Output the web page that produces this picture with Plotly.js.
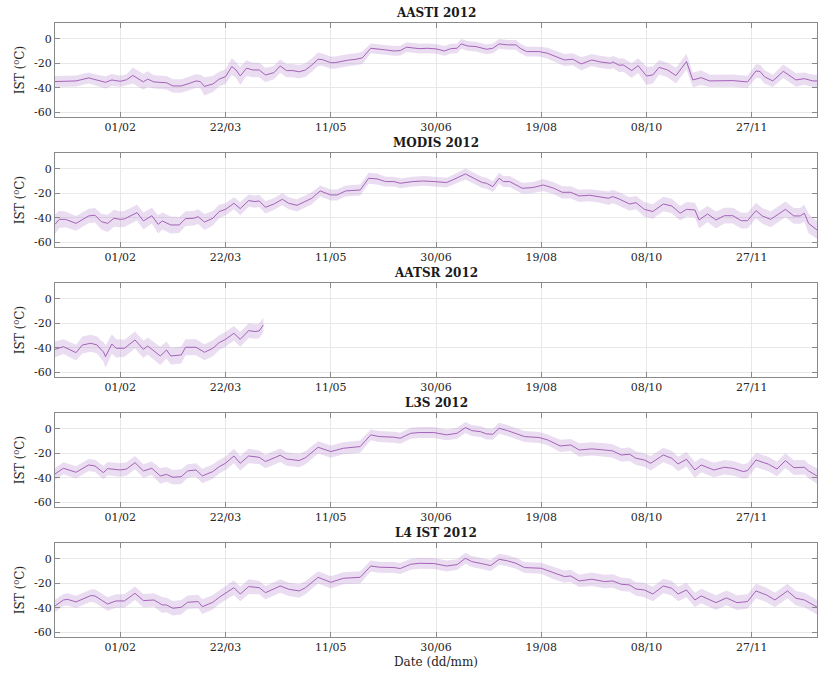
<!DOCTYPE html>
<html>
<head>
<meta charset="utf-8">
<script src="https://cdn.plot.ly/plotly-3.0.1.min.js"></script>
<style>html,body{margin:0;padding:0;background:#fff;}#chart{width:818px;height:674px;}</style>
</head>
<body>
<div id="chart"></div>
<script>
// ---- data (day of year 2012, 0 = 1 Jan) ----
const panelTitles = ["AASTI 2012", "MODIS 2012", "AATSR 2012", "L3S 2012", "L4 IST 2012"];
const yTickVals = [0, -20, -40, -60];
const yTickText = ["0", "-20", "-40", "-60"];

const daysAASTI = [0,10,16,20,24,27,31,34,37,42,44,47,53,56,60,64,67,69,71,75,78,81,84,86,88,91,94,97,100,104,107,110,113,116,119,122,125,127,131,133,136,139,143,146,150,153,157,161,164,167,170,173,177,181,185,188,191,193,196,200,205,208,211,215,219,221,224,230,234,238,242,246,250,255,259,264,265,268,270,274,277,281,284,287,291,295,300,303,307,311,318,322,329,333,335,337,341,346,352,356,360,363];
const meanAASTI = [-35,-34.5,-32,-34,-35.6,-33.7,-34.8,-33.5,-30,-35.3,-33,-35.3,-36,-38.6,-38.6,-36.4,-34.5,-35,-39,-37,-33,-31,-22.7,-25.5,-30.4,-24,-25.5,-25.5,-29.6,-27.7,-22.2,-26,-26,-27,-25.5,-21.4,-16.7,-17,-19.5,-19.5,-18.4,-17.5,-16.7,-15.6,-7.7,-8.5,-9,-9.9,-9.6,-6.8,-7.1,-8,-7.7,-8.2,-9.9,-8,-7.7,-4.1,-5.8,-6.3,-8.5,-7.7,-4.1,-4.9,-4.9,-7.7,-10.4,-10.4,-11.8,-14.5,-17.3,-16.7,-20.5,-17.3,-18.9,-20,-18.9,-21.6,-21.4,-26,-21.9,-30.4,-29.6,-23.3,-25.5,-30.1,-18.6,-33.7,-31.8,-34.5,-34.5,-34.2,-35.3,-26.3,-26.8,-31,-34.5,-26.6,-33.7,-32.6,-34.5,-34.5];
const sdAASTI = [4.5,4.5,4.5,4.5,5,5,4.5,4.5,6.5,6.5,6.5,5.5,5.5,5.5,5.5,5.5,5.5,5.5,7.5,6.5,6,6,7,6.5,7.5,6.5,6,6,6,5.5,5.5,5.5,5.5,5.5,5.5,5.5,5.5,5,5,5,5,5,5,5,4,4,4,4,4,4,4,4,4,4,4,4,4,4,4,4,4,4,4,4,4,4,4,4,4.5,4.5,5,5,5.5,5,5,5,5,5.5,5.5,6,6,7.5,7,6,6,6.5,6.5,6,6,5,5,5,5,5.5,5.5,5.5,5,5.5,5.5,5,5,5];

const daysMODIS = [0,2,5,10,16,19,22,25,28,31,33,39,42,46,49,51,55,59,62,66,68,71,75,78,81,85,88,92,95,97,100,104,108,111,115,119,122,126,128,131,134,138,145,149,153,157,161,164,170,175,180,186,189,195,199,203,205,208,211,213,216,222,227,232,237,241,245,249,254,259,263,265,268,273,276,280,284,289,293,297,300,304,306,310,314,318,322,326,329,333,336,340,347,351,354,356,358,363];
const meanMODIS = [-45.5,-41.4,-41.4,-44.7,-38.6,-38,-43.3,-44.7,-40.5,-41.4,-41,-35.9,-42.7,-38.4,-45.5,-42.7,-46,-46,-40.8,-40.5,-39.2,-43.6,-40.5,-35,-33.2,-28.2,-32.6,-26,-26.8,-26.3,-31.5,-28.8,-24.9,-28.2,-29.9,-26.3,-24.1,-18.1,-19.5,-21.4,-21.4,-18.1,-17.3,-7.7,-8.2,-10.4,-10.4,-11.8,-10.4,-9.9,-10.4,-11.2,-9,-4.1,-7.7,-11.2,-11.8,-14.5,-7.7,-10.4,-10.4,-15.9,-15.3,-13.2,-15.9,-19.2,-19.2,-22.2,-21.6,-22.7,-24.1,-22.7,-24.7,-28.8,-27.7,-33.2,-35,-28.8,-30.4,-36.4,-33.2,-33.7,-41.9,-37,-41.9,-38.4,-38.4,-42.5,-42.5,-34.2,-38.6,-41.4,-33.2,-38.6,-38.6,-36.4,-44.7,-51.5];
const sdMODIS = [8,7,6.5,6,6,6,6.5,7,7,6.5,6.5,6.5,7,6.5,7.5,7,7,6.5,6,6,6,6.5,6,5.5,5,5,5.5,5,5,5,5,5,5,5,5,5,5,4.5,4.5,4.5,4.5,4.5,4.5,4.5,4.5,4,4,4,4,4,4,4,4,4.5,4.5,4.5,4.5,4.5,4.5,4.5,4.5,4.5,4.5,5,5,5,5,5,5,5,5.5,5.5,5.5,5.5,5.5,6,6,6,6,6,6,6,7,6.5,7,6.5,6.5,6.5,6.5,6.5,6.5,6.5,6.5,6.5,6.5,7,8,7];

const daysAATSR = [0,4,10,13,17,20,22,23,24,27,29,33,38,42,44,50,53,55,60,62,67,71,75,78,81,85,88,92,95,97,99];
const meanAATSR = [-41.4,-39.2,-44.1,-37.8,-36.4,-37.8,-41.9,-43.3,-47.4,-37,-40.5,-40.5,-33.7,-41.4,-38.6,-46.8,-41.9,-46.8,-46,-39.7,-39.7,-43.8,-40.5,-35.9,-33.2,-28.2,-33.2,-26,-26.8,-26.3,-21.4];
const sdAATSR = [6.5,6,6.5,7,7,7,7.5,8,9,8,7.5,7,7,7,7,7.5,7,7,7,6.5,6.5,6.5,6.5,6,6,6,6,6,6,6,6];

const daysL3S = [0,4,10,16,19,23,25,31,34,38,42,46,50,53,56,60,63,67,70,75,78,81,85,88,92,97,100,107,110,116,119,125,131,137,145,150,154,161,164,167,169,173,180,186,191,195,198,202,205,208,211,215,219,223,230,234,240,245,249,255,261,265,269,273,276,280,283,289,293,296,300,304,307,313,318,322,327,329,333,337,339,343,347,351,356,358,363];
const meanL3S = [-37,-32.3,-35.6,-29.6,-30.4,-35.9,-32.6,-33.7,-32.9,-27.7,-34.5,-32.3,-38.6,-37.3,-39.7,-39.2,-34.5,-33.7,-38.6,-35,-31,-28.2,-22.2,-28.2,-22.2,-23.3,-26.8,-21.6,-24.7,-26,-23.6,-15.1,-18.6,-15.9,-14.5,-4.9,-6.3,-6.8,-7.7,-4.9,-3.6,-3,-3,-4.9,-3.6,1.1,-1.4,-2.2,-4.1,-4.4,0.5,-1.4,-3.6,-6.3,-7.1,-9,-14,-13.2,-17.3,-16.4,-17.3,-18.1,-21.4,-20.8,-24.1,-25.5,-28.2,-21.4,-24.1,-28.8,-24.9,-33.7,-29.6,-33.7,-31.5,-32.3,-35,-34.2,-25.5,-28.2,-29,-32.9,-26,-31.8,-31.5,-34.5,-39.7];
const sdL3S = [5,5,5,5,5,5.5,5.5,5.5,5.5,5.5,5.5,5.5,6.5,6,6,6,5.5,5.5,6,6,5.5,5.5,6,6,6,5.5,5.5,5.5,5.5,5.5,5.5,5,5,5,5,4.5,4.5,4.5,4.5,4.5,4.5,4.5,4.5,4.5,4.5,4.5,4.5,4.5,4.5,4.5,4.5,4.5,4.5,4.5,4.5,4.5,5,5,5.5,5.5,5.5,5.5,5.5,5.5,5.5,5.5,6,6,6,6,6,6.5,6,6,6,6,6,6,6,6,6,6,6,6,6,6,6.5];

const daysL4 = [0,4,6,10,17,19,25,29,33,38,42,47,51,53,56,60,63,68,70,75,78,81,85,88,92,97,100,107,111,116,119,125,131,137,145,150,154,161,164,167,169,173,180,186,191,195,198,202,207,211,215,219,223,231,236,242,245,249,255,261,265,269,273,276,280,284,289,293,296,300,304,307,314,319,324,329,333,338,342,348,352,356,363];
const meanL4 = [-38.6,-33.7,-33.2,-35.3,-30.1,-30.4,-37,-34.5,-34.5,-28.2,-34.2,-33.7,-37.8,-37.8,-40.5,-39.7,-35.6,-35,-39.2,-35.6,-31.5,-28.2,-23.6,-28.8,-22.7,-23.6,-27.7,-22.2,-24.9,-26.3,-23.6,-15.1,-19.2,-15.9,-15.1,-5.8,-6.8,-7.1,-7.9,-5.8,-4.4,-3.6,-3.8,-5.8,-4.7,0.5,-2.2,-3.6,-5.5,-0.3,-1.6,-3.6,-7.1,-7.7,-11,-14.5,-14,-18.1,-16.7,-18.6,-18.1,-20.8,-21.4,-24.7,-25.5,-28.8,-22.2,-24.1,-28.8,-25.5,-33.7,-30.4,-35.9,-32,-35.9,-35,-26.3,-29.6,-33.7,-26.3,-32.3,-33.7,-40.5];
const sdL4 = [5,5,5,5,5,5.5,5.5,5.5,5.5,5.5,5.5,5.5,6.5,6,6,6,5.5,5.5,6,6,5.5,5.5,6,6,6,5.5,5.5,5.5,5.5,5.5,5.5,5,5,5,5,4.5,4.5,4.5,4.5,4.5,4.5,4.5,4.5,4.5,4.5,4.5,4.5,4.5,4.5,4.5,4.5,4.5,4.5,4.5,5,5,5,5,5.5,5.5,5.5,5.5,5.5,5.5,6,6,6,6,6,6,6,6,6,6,6,6,6,6,6,6,6,6,6];

const allDays = [daysAASTI, daysMODIS, daysAATSR, daysL3S, daysL4];
const allMeans = [meanAASTI, meanMODIS, meanAATSR, meanL3S, meanL4];
const allSd = [sdAASTI, sdMODIS, sdAATSR, sdL3S, sdL4];

// ---- build ----
const DAY = 86400000;
const t0 = Date.UTC(2012, 0, 1);
const toDate = d => new Date(t0 + d * DAY).toISOString().slice(0, 19).replace('T', ' ');

const H = 674;
const panelTop = [23.3, 153.3, 283.3, 413.3, 543.3];
const panelH = 93.6;
const lineColor = '#a462b8';
const bandColor = 'rgba(190,150,212,0.32)';
const serif = 'DejaVu Serif, Liberation Serif, serif';
const axColor = '#8a8a8a';

const traces = [];
const layout = {
  width: 818, height: 674,
  margin: {l: 55, r: 1, t: 0, b: 0},
  paper_bgcolor: '#fff', plot_bgcolor: '#fff',
  showlegend: false, hovermode: false,
  font: {family: serif, color: '#262626', size: 11},
  annotations: []
};

for (let i = 0; i < 5; i++) {
  const xs = allDays[i].map(toDate);
  const m = allMeans[i], s = allSd[i];
  const upper = m.map((v, k) => v + s[k]);
  const lower = m.map((v, k) => v - s[k]);
  const xa = i === 0 ? 'x' : 'x' + (i + 1);
  const ya = i === 0 ? 'y' : 'y' + (i + 1);
  traces.push({x: xs, y: upper, xaxis: xa, yaxis: ya, mode: 'lines', line: {width: 0, color: bandColor}, hoverinfo: 'skip'});
  traces.push({x: xs, y: lower, xaxis: xa, yaxis: ya, mode: 'lines', line: {width: 0, color: bandColor}, fill: 'tonexty', fillcolor: bandColor, hoverinfo: 'skip'});
  traces.push({x: xs, y: m, xaxis: xa, yaxis: ya, mode: 'lines', line: {width: 1, color: lineColor}});

  const y1 = 1 - panelTop[i] / H;
  const y0 = 1 - (panelTop[i] + panelH) / H;
  const axKey = i === 0 ? '' : String(i + 1);
  const xaxis = {
    type: 'date', anchor: ya,
    range: [toDate(0), toDate(362)],
    tick0: toDate(31), dtick: 50 * DAY, tickformat: '%d/%m',
    showgrid: true, gridcolor: '#e8e8e8', gridwidth: 1,
    showline: true, linecolor: axColor, linewidth: 1, mirror: 'ticks',
    ticks: 'inside', ticklen: 5, tickcolor: axColor,
    tickfont: {family: serif, size: 11, color: '#262626'},
    zeroline: false, fixedrange: true
  };
  if (i === 4) {
    xaxis.title = {text: 'Date (dd/mm)', font: {family: serif, size: 12, color: '#262626'}, standoff: 4};
  }
  layout['xaxis' + axKey] = xaxis;
  layout['yaxis' + axKey] = {
    domain: [y0, y1], anchor: xa,
    range: [-64, 12.8],
    tickvals: yTickVals, ticktext: yTickText,
    showgrid: true, gridcolor: '#e8e8e8', gridwidth: 1,
    showline: true, linecolor: axColor, linewidth: 1, mirror: 'ticks',
    ticks: 'inside', ticklen: 5, tickcolor: axColor,
    tickfont: {family: serif, size: 11, color: '#262626'},
    zeroline: false, fixedrange: true,
    title: {text: 'IST (<sup>o</sup>C)', font: {family: serif, size: 12, color: '#262626'}, standoff: 6}
  };
  layout.annotations.push({
    text: '<b>' + panelTitles[i] + '</b>', xref: 'paper', yref: 'paper',
    x: 0.5, y: y1, xanchor: 'center', yanchor: 'bottom', yshift: 1, showarrow: false,
    font: {family: serif, size: 12, color: '#1a1a1a'}
  });
}

Plotly.newPlot('chart', traces, layout, {displayModeBar: false, staticPlot: true});
</script>
</body>
</html>
